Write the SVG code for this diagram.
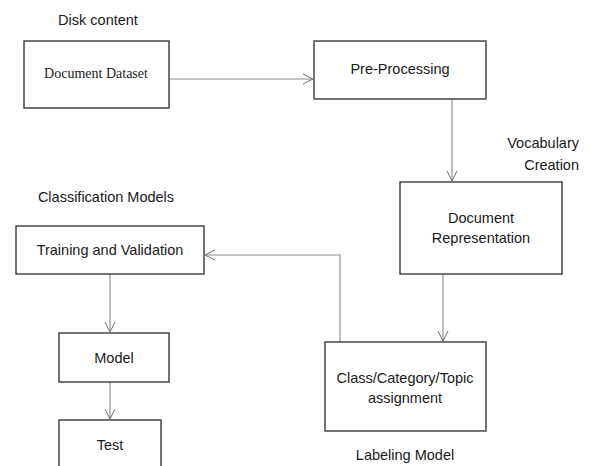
<svg xmlns="http://www.w3.org/2000/svg" width="590" height="466" viewBox="0 0 590 466">
<defs>
<marker id="arr" markerWidth="12" markerHeight="12" refX="11" refY="6" orient="auto" markerUnits="userSpaceOnUse">
<path d="M1,1 L11,6 L1,11" fill="none" stroke="#707070" stroke-width="1"/>
</marker>
<style>
.box{fill:#fff;stroke:#3a3a3a;stroke-width:1.4}
.t{font-family:"Liberation Sans",Arial,sans-serif;font-size:14.5px;fill:#1a1a1a;text-anchor:middle}
.r{text-anchor:end}
.s{font-family:"Liberation Serif","Times New Roman",serif;font-size:14px;fill:#1a1a1a;text-anchor:middle}
.c{fill:none;stroke:#8a8a8a;stroke-width:1.1;marker-end:url(#arr)}
</style>
</defs>
<rect width="590" height="466" fill="#fff"/>
<g id="labels">
<text class="t" x="98" y="25">Disk content</text>
<text class="t r" x="579" y="148">Vocabulary</text>
<text class="t r" x="579" y="170">Creation</text>
<text class="t" x="106" y="202">Classification Models</text>
<text class="t" x="405" y="460">Labeling Model</text>
</g>
<g id="connectors">
<path class="c" d="M169,79 H313"/>
<path class="c" d="M452,99 V181"/>
<path class="c" d="M443,274 V341"/>
<path class="c" d="M340,342 V255 H205"/>
<path class="c" d="M110,274 V332"/>
<path class="c" d="M110,382 V419"/>
</g>
<g id="document-dataset">
<rect class="box" x="24" y="41" width="145" height="67"/>
<text class="s" x="96" y="78">Document Dataset</text>
</g>
<g id="pre-processing">
<rect class="box" x="314" y="41" width="172" height="58"/>
<text class="t" x="400" y="74">Pre-Processing</text>
</g>
<g id="document-representation">
<rect class="box" x="400" y="182" width="162" height="92"/>
<text class="t" x="481" y="223">Document</text>
<text class="t" x="481" y="243">Representation</text>
</g>
<g id="class-assignment">
<rect class="box" x="325" y="342" width="161" height="89"/>
<text class="t" x="405" y="383">Class/Category/Topic</text>
<text class="t" x="405" y="403">assignment</text>
</g>
<g id="training-validation">
<rect class="box" x="16" y="226" width="188" height="48"/>
<text class="t" x="110" y="255">Training and Validation</text>
</g>
<g id="model">
<rect class="box" x="59" y="333" width="110" height="49"/>
<text class="t" x="114" y="363">Model</text>
</g>
<g id="test">
<rect class="box" x="59" y="420" width="102" height="60"/>
<text class="t" x="110" y="450">Test</text>
</g>
</svg>
